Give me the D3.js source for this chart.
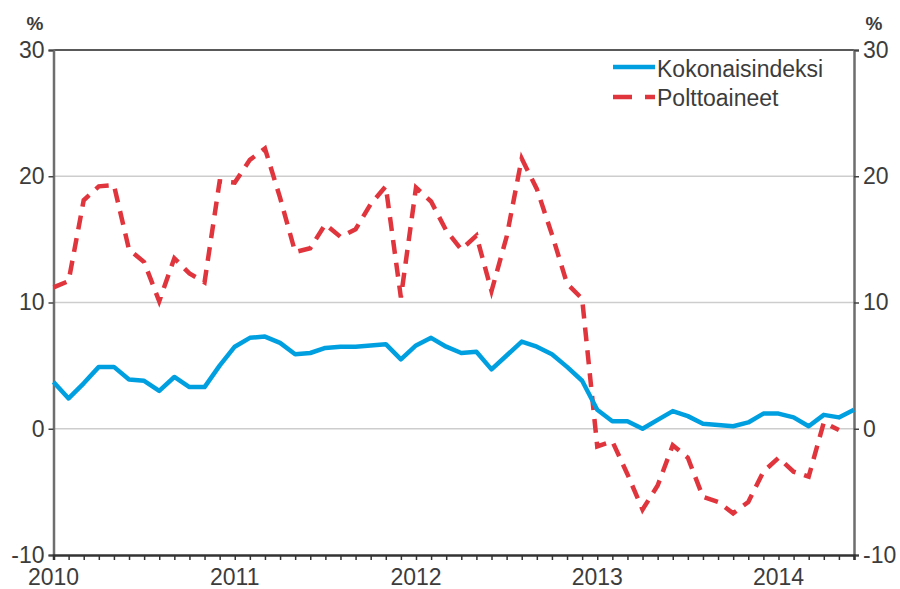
<!DOCTYPE html>
<html>
<head>
<meta charset="utf-8">
<script src="https://cdn.jsdelivr.net/npm/d3@7"></script>
<style>
  html, body { margin: 0; padding: 0; background: #fff; }
  svg { display: block; font-family: "Liberation Sans", Arial, sans-serif; }
</style>
</head>
<body>
<svg id="chart" width="900" height="589"></svg>
<script>
// ---- data (monthly, Jan 2010 – Jun 2014) ----
const yearLabels = ["2010", "2011", "2012", "2013", "2014"];
const startYear = 2010;
const monthCount = 54;
const months = d3.range(monthCount).map(i => `${startYear + Math.floor(i / 12)}-${String(i % 12 + 1).padStart(2, "0")}`);

const kokonaisindeksi = [
  3.7, 2.4, 3.6, 4.9, 4.9, 3.9, 3.8, 3.0, 4.1, 3.3, 3.3, 5.0,
  6.5, 7.2, 7.3, 6.8, 5.9, 6.0, 6.4, 6.5, 6.5, 6.6, 6.7, 5.5,
  6.6, 7.2, 6.5, 6.0, 6.1, 4.7, 5.8, 6.9, 6.5, 5.9, 4.9, 3.8,
  1.5, 0.6, 0.6, 0.0, 0.7, 1.4, 1.0, 0.4, 0.3, 0.2, 0.5, 1.2,
  1.2, 0.9, 0.2, 1.1, 0.9, 1.5
];
const polttoaineet = [
  11.2, 11.7, 18.1, 19.2, 19.3, 14.2, 13.2, 10.1, 13.5, 12.3, 11.6, 19.6,
  19.5, 21.3, 22.2, 18.3, 14.0, 14.3, 16.2, 15.2, 15.8, 17.8, 19.2, 10.4,
  19.1, 18.0, 15.7, 14.2, 15.3, 10.9, 15.2, 21.4, 19.0, 15.4, 11.5, 10.3,
  -1.4, -1.0, -3.6, -6.4, -4.5, -1.3, -2.3, -5.4, -5.8, -6.7, -5.8, -3.4,
  -2.3, -3.4, -3.8, 0.5, -0.1
];
const yTicks = [-10, 0, 10, 20, 30];
const yTickLabels = ["-10", "0", "10", "20", "30"];
const seriesNames = ["Kokonaisindeksi", "Polttoaineet"];
const unitLabel = "%";

// ---- layout ----
const svg = d3.select("#chart");
const L = 53.5, R = 854, T = 50, B = 555;
const textColor = "#3c3c3c";
const blue = "#00a0e0", red = "#e0353d";

const x = d3.scaleLinear().domain([0, monthCount - 1]).range([L, R]);
const y = d3.scaleLinear().domain([-10, 30]).range([B, T]);
const fmt = d => yTickLabels[yTicks.indexOf(d)];

// gridlines
svg.append("g").selectAll("line")
  .data(yTicks.filter(d => d > -10 && d < 30))
  .join("line")
  .attr("x1", L).attr("x2", R)
  .attr("y1", d => y(d)).attr("y2", d => y(d))
  .attr("stroke", "#cdcdcd").attr("stroke-width", 1.5);

// top border
svg.append("line").attr("x1", L).attr("x2", R).attr("y1", T).attr("y2", T)
  .attr("stroke", "#222").attr("stroke-width", 1.5);

// left axis
const leftAxis = svg.append("g").attr("transform", `translate(${L},0)`)
  .call(d3.axisLeft(y).tickValues(yTicks).tickSize(5).tickPadding(4).tickFormat(fmt));
// right axis
const rightAxis = svg.append("g").attr("transform", `translate(${R},0)`)
  .call(d3.axisRight(y).tickValues(yTicks).tickSize(5).tickPadding(4).tickFormat(fmt));
// bottom axis (month ticks)
const bottomAxis = svg.append("g").attr("transform", `translate(0,${B})`)
  .call(d3.axisBottom(x).tickValues(d3.range(monthCount)).tickSize(5).tickFormat(""));

[leftAxis, rightAxis].forEach(g => {
  g.select(".domain").attr("stroke", "#6e6e6e").attr("stroke-width", 2.5);
  g.selectAll(".tick line").attr("stroke", "#444").attr("stroke-width", 1.5);
  g.selectAll(".tick text").attr("fill", textColor).attr("font-size", 23)
    .attr("font-family", "'Liberation Sans', Arial, sans-serif");
});
bottomAxis.select(".domain").attr("stroke", "#333").attr("stroke-width", 2.5);
bottomAxis.selectAll(".tick line").attr("stroke", "#333").attr("stroke-width", 1.5);

// year labels
svg.append("g").selectAll("text")
  .data(yearLabels)
  .join("text")
  .attr("x", (d, i) => x(i * 12))
  .attr("y", 585)
  .attr("text-anchor", "middle")
  .attr("fill", textColor)
  .attr("font-size", 23)
  .text(d => d);

// unit labels
svg.append("text").attr("x", 35).attr("y", 30).attr("text-anchor", "middle")
  .attr("font-size", 19).attr("font-weight", "bold").attr("fill", textColor).text(unitLabel);
svg.append("text").attr("x", 874).attr("y", 30).attr("text-anchor", "middle")
  .attr("font-size", 19).attr("font-weight", "bold").attr("fill", textColor).text(unitLabel);

// lines
const line = d3.line().x((d, i) => x(i)).y(d => y(d));
svg.append("path").datum(polttoaineet)
  .attr("fill", "none").attr("stroke", red).attr("stroke-width", 4.5)
  .attr("stroke-dasharray", "14,9").attr("d", line);
svg.append("path").datum(kokonaisindeksi)
  .attr("fill", "none").attr("stroke", blue).attr("stroke-width", 4.5)
  .attr("stroke-linejoin", "round").attr("d", line);

// legend
const lg = svg.append("g");
lg.append("line").attr("x1", 613).attr("x2", 655).attr("y1", 67).attr("y2", 67)
  .attr("stroke", blue).attr("stroke-width", 4.5);
lg.append("line").attr("x1", 613).attr("x2", 655).attr("y1", 97).attr("y2", 97)
  .attr("stroke", red).attr("stroke-width", 4.5).attr("stroke-dasharray", "19,13");
lg.append("text").attr("x", 657).attr("y", 77).attr("font-size", 23).attr("fill", textColor).text(seriesNames[0]);
lg.append("text").attr("x", 657).attr("y", 106).attr("font-size", 23).attr("fill", textColor).text(seriesNames[1]);
</script>
</body>
</html>
